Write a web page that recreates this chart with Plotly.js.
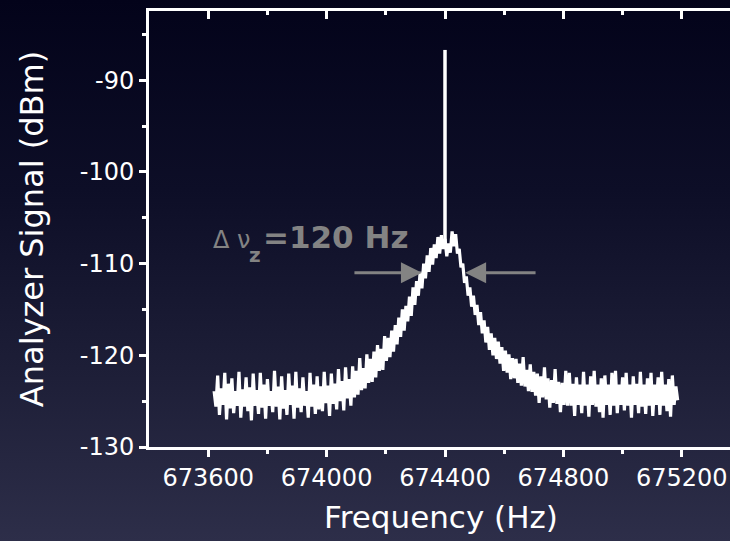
<!DOCTYPE html>
<html>
<head>
<meta charset="utf-8">
<script src="https://cdn.plot.ly/plotly-3.0.1.min.js"></script>
<style>
html, body { margin:0; padding:0; width:730px; height:541px; overflow:hidden;
  background: linear-gradient(to bottom, #03031a 0%, #0d0e27 35%, #1e1f38 70%, #2d2e49 100%); }
#chart { width:745px; height:541px; }
</style>
</head>
<body>
<div id="chart"></div>
<script>
// ---- data ----
var FREQ_START = 673620;   // Hz, first sample
var FREQ_STEP = 6;         // Hz between samples
var signal = [
 -123.9,-125.6,-122.2,-126.5,-123.6,-125.4,-121.9,-127.0,-123.1,-125.8,
 -122.5,-126.3,-123.9,-125.5,-121.8,-126.8,-123.7,-125.6,-122.4,-126.1,
 -123.5,-127.1,-122.0,-125.5,-123.8,-126.4,-121.9,-125.7,-123.2,-126.9,
 -122.6,-125.5,-123.9,-126.2,-121.7,-125.6,-123.4,-127.0,-122.3,-125.8,
 -123.8,-126.5,-122.0,-125.4,-123.3,-126.9,-121.8,-125.7,-123.6,-126.2,
 -122.4,-125.5,-123.9,-126.8,-121.9,-125.6,-123.2,-126.4,-122.3,-125.9,
 -123.4,-126.1,-121.8,-125.2,-123.3,-126.6,-122.0,-125.3,-123.1,-125.9,
 -121.5,-125.0,-122.8,-126.0,-121.3,-124.7,-122.6,-125.5,-121.2,-124.6,
 -121.7,-124.3,-120.3,-123.8,-121.4,-123.6,-119.9,-123.0,-120.4,-122.9,
 -119.6,-122.4,-118.9,-121.7,-119.3,-121.6,-117.9,-120.6,-118.1,-120.2,
 -117.3,-119.6,-116.7,-118.8,-115.9,-118.0,-115.0,-117.3,-114.6,-116.3,
 -113.6,-115.7,-112.6,-114.5,-111.9,-113.5,-110.9,-112.7,-110.0,-111.6,
 -109.1,-110.9,-108.3,-110.1,-107.9,-109.4,-107.1,-108.9,-106.9,-108.4,
 -107.3,-109.2,-107.8,-108.8,-106.5,-108.1,-106.8,-108.9,-108.4,-110.4,
 -110.0,-112.1,-111.4,-113.5,-112.6,-114.7,-113.5,-115.6,-114.5,-116.7,
 -115.3,-117.6,-116.2,-118.6,-116.9,-119.4,-117.6,-120.0,-118.1,-120.4,
 -118.5,-120.9,-119.1,-121.7,-119.5,-121.9,-119.9,-122.6,-120.3,-122.5,
 -120.4,-123.0,-120.9,-123.3,-120.2,-123.4,-121.6,-123.9,-121.0,-124.0,
 -121.8,-124.4,-122.0,-125.2,-122.3,-124.6,-121.3,-124.8,-122.5,-125.7,
 -122.7,-125.2,-121.5,-125.3,-122.9,-126.2,-123.0,-125.4,-121.7,-125.5,
 -121.9,-125.5,-123.1,-126.6,-122.4,-125.4,-123.2,-126.3,-121.8,-125.5,
 -123.2,-126.7,-122.3,-125.4,-121.7,-125.6,-123.2,-126.2,-122.5,-126.8,
 -122.2,-125.4,-123.2,-126.5,-121.9,-125.5,-121.7,-126.3,-123.2,-125.4,
 -122.4,-126.0,-121.9,-125.5,-123.2,-126.8,-122.3,-125.4,-123.1,-126.3,
 -121.8,-125.6,-123.2,-126.4,-122.5,-125.5,-121.9,-126.6,-123.2,-125.4,
 -122.4,-126.5,-121.8,-125.5,-123.2,-126.1,-122.6,-126.7,-122.2,-125.4,
 -123.4,-124.9
];
var spikeFreq = [674400, 674400];
var spikeLevel = [-107.8, -86.7];
var xTickVals = [673600, 674000, 674400, 674800, 675200];
var xTickText = ['673600', '674000', '674400', '674800', '675200'];
var xMinorVals = [673800, 674200, 674600, 675000];
var yTickVals = [-130, -120, -110, -100, -90];
var yTickText = ['-130', '-120', '-110', '-100', '-90'];
var yMinorVals = [-125, -115, -105, -95, -85];
var widthLabel = '=120 Hz';

var freq = signal.map(function (_, i) { return FREQ_START + i * FREQ_STEP; });

var FONT = 'DejaVu Sans';
var GREY = '#838383';

var traces = [
  { x: freq, y: signal, type: 'scatter', mode: 'lines',
    line: { color: '#ffffff', width: 3.2, simplify: false }, hoverinfo: 'skip' },
  { x: spikeFreq, y: spikeLevel, type: 'scatter', mode: 'lines',
    line: { color: '#ffffff', width: 3.5 }, hoverinfo: 'skip' },
  { x: [], y: [], xaxis: 'x2', type: 'scatter', mode: 'lines', hoverinfo: 'skip' }
];

var XR = [673400, 673400 + 584 / 0.296];
var YR = [-130, -130 + 436 / 9.17];

var layout = {
  width: 745, height: 541,
  margin: { l: 149, r: 12, t: 11, b: 94 },
  paper_bgcolor: 'rgba(0,0,0,0)', plot_bgcolor: 'rgba(0,0,0,0)',
  showlegend: false,
  font: { family: FONT, color: '#ffffff', size: 24 },
  xaxis: {
    range: XR, showgrid: false, zeroline: false,
    showline: true, linecolor: '#ffffff', linewidth: 3,
    ticks: 'outside', ticklen: 7, tickwidth: 3, tickcolor: '#ffffff',
    tickmode: 'array', tickvals: xTickVals, ticktext: xTickText,
    tickfont: { family: FONT, size: 24, color: '#ffffff' },
    minor: { tickmode: 'array', tickvals: xMinorVals, ticks: 'outside', ticklen: 4, tickwidth: 3, tickcolor: '#ffffff', showgrid: false },
    title: { text: 'Frequency (Hz)', font: { family: FONT, size: 31, color: '#ffffff' }, standoff: 16 },
    automargin: false
  },
  xaxis2: {
    overlaying: 'x', side: 'top', range: XR, showgrid: false, zeroline: false,
    showline: true, linecolor: '#ffffff', linewidth: 3,
    ticks: 'inside', ticklen: 8, tickwidth: 3, tickcolor: '#ffffff',
    tickmode: 'array', tickvals: xTickVals, showticklabels: false,
    minor: { tickmode: 'array', tickvals: xMinorVals, ticks: 'inside', ticklen: 4, tickwidth: 3, tickcolor: '#ffffff', showgrid: false },
    automargin: false
  },
  yaxis: {
    range: YR, showgrid: false, zeroline: false,
    showline: true, linecolor: '#ffffff', linewidth: 3,
    ticks: 'outside', ticklen: 7, tickwidth: 3, tickcolor: '#ffffff',
    tickmode: 'array', tickvals: yTickVals, ticktext: yTickText,
    tickfont: { family: FONT, size: 24, color: '#ffffff' },
    minor: { tickmode: 'array', tickvals: yMinorVals, ticks: 'outside', ticklen: 4, tickwidth: 3, tickcolor: '#ffffff', showgrid: false },
    title: { text: 'Analyzer Signal (dBm)', font: { family: FONT, size: 32, color: '#ffffff' }, standoff: 27 },
    automargin: false
  },
  annotations: [
    { xref: 'x', yref: 'y', x: 674322, y: -111.0, ax: 674089, ay: -111.0, axref: 'x', ayref: 'y',
      text: '', showarrow: true, arrowhead: 2, arrowsize: 1.4, arrowwidth: 3, arrowcolor: GREY },
    { xref: 'x', yref: 'y', x: 674468, y: -111.0, ax: 674711, ay: -111.0, axref: 'x', ayref: 'y',
      text: '', showarrow: true, arrowhead: 2, arrowsize: 1.4, arrowwidth: 3, arrowcolor: GREY },
    { xref: 'x', yref: 'y', x: 673608, y: -107.4, xanchor: 'left', yanchor: 'middle', showarrow: false,
      text: 'Δ ν', font: { family: FONT, size: 24, color: GREY } },
    { xref: 'x', yref: 'y', x: 673758, y: -109.1, xanchor: 'center', yanchor: 'middle', showarrow: false,
      text: 'z', font: { family: FONT, size: 20, color: GREY, weight: 700 } },
    { xref: 'x', yref: 'y', x: 673780, y: -107.15, xanchor: 'left', yanchor: 'middle', showarrow: false,
      text: widthLabel, font: { family: FONT, size: 31, color: GREY, weight: 700 } }
  ]
};

Plotly.newPlot('chart', traces, layout, { staticPlot: true, displayModeBar: false });
</script>
</body>
</html>
